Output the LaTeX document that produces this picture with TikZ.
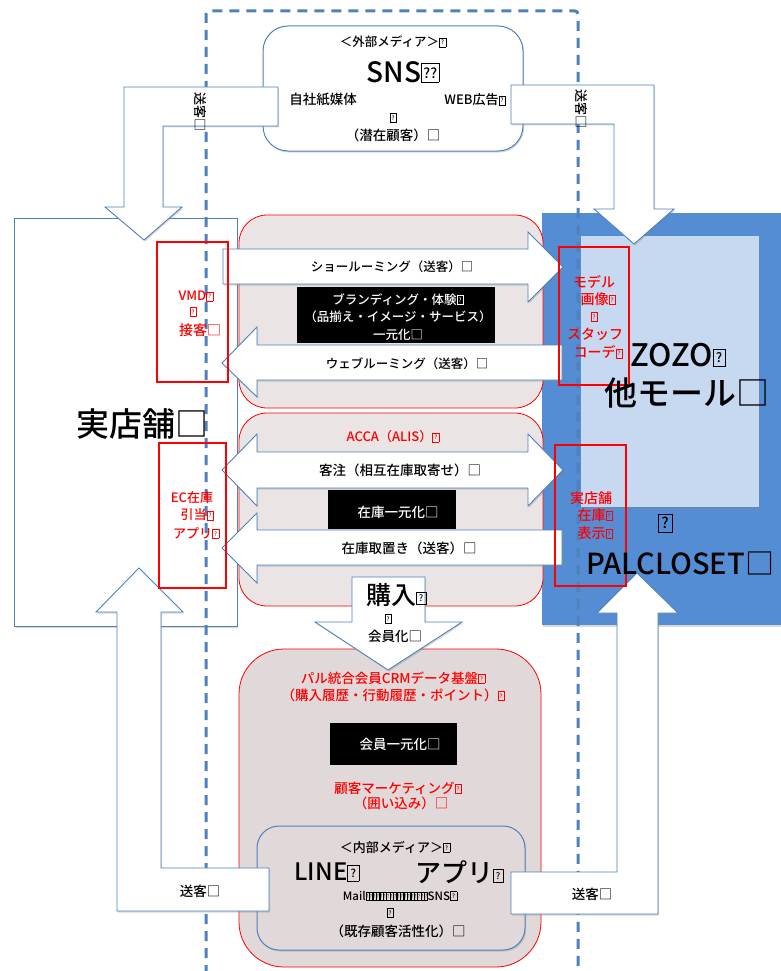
\documentclass[tikz,border=0pt]{standalone}
\usepackage{graphicx}
\usepackage{fontspec}
\setmainfont{Noto Sans CJK JP}[UprightFont={* Medium}]
\usetikzlibrary{shadows}
\definecolor{bline}{RGB}{79,129,189}
\definecolor{panel}{RGB}{84,141,212}
\definecolor{lightb}{RGB}{198,217,241}
\definecolor{greyA}{RGB}{234,228,228}
\definecolor{greyB}{RGB}{225,217,217}
% boxed question mark (missing-glyph box): width, height, font size, content
\newcommand{\qbox}[4]{{\setlength{\fboxsep}{0pt}\setlength{\fboxrule}{0.5pt}\fbox{\parbox[b][#2][c]{#1}{\centering\fontsize{#3}{#3}\selectfont #4}}}}
\newcommand{\qb}{\qbox{6pt}{8.5pt}{6}{?}}
\tikzset{
 shad/.style={drop shadow={shadow xshift=1.2pt,shadow yshift=-1.5pt,opacity=0.3}},
 bluebox/.style={draw=bline,line width=1pt,fill=white,shad},
 greybox/.style={draw=red,line width=0.8pt,fill=greyA,rounded corners=28pt},
 blockarrow/.style={draw=bline,line width=0.9pt,fill=white,shad},
 redframe/.style={draw=red,line width=2.2pt},
 txt/.style={inner sep=0pt,align=center,font=\fontsize{13}{17}\selectfont},
 rtxt/.style={txt,text=red},
 wtxt/.style={txt,text=white},
}
\begin{document}
\begin{tikzpicture}[x=1pt,y=-1pt]
\useasboundingbox[fill=white] (0,0) rectangle (781,971);
% store
\draw[bluebox] (14,218) rectangle (237,626);
% right panel
\fill[panel,shad] (542,213) rectangle (781,625);
\fill[lightb,shad] (581,236) rectangle (759,507);
% grey rounded boxes
\draw[greybox] (239,215) rectangle (543,408);
\draw[greybox] (239,413) rectangle (543,606);
\draw[greybox,fill=greyB,rounded corners=45pt] (239,649) rectangle (541,967);
% top SNS box
\draw[bluebox,rounded corners=25pt] (263,26) rectangle (523,151);
% inner media box
\draw[draw=bline,line width=1pt,fill=greyB,rounded corners=22pt,shad] (257,826) rectangle (525,950);
% black boxes
\fill[black] (297,287) rectangle (495,343);
\fill[black] (328,490) rectangle (456,529);
\fill[black] (330,723) rectangle (457,765);
% dashed frame
\draw[bline,line width=3pt,dash pattern=on 10pt off 7pt,rounded corners=3pt] (206,975) -- (206,11) -- (578,11) -- (578,975);
% block arrows
\draw[blockarrow] (278,87) -- (124,87) -- (124,207) -- (105,207) -- (144,240) -- (182,207) -- (163,207) -- (163,126) -- (278,126) -- cycle;
\draw[blockarrow] (511,85) -- (654,85) -- (654,209) -- (674,209) -- (634,244) -- (594,209) -- (614,209) -- (614,124) -- (511,124) -- cycle;
\draw[blockarrow] (139,568) -- (183,612) -- (161,612) -- (161,868) -- (269,868) -- (269,911) -- (117,911) -- (117,612) -- (96,612) -- cycle;
\draw[blockarrow] (637,573) -- (678,613) -- (658,613) -- (658,914) -- (511,914) -- (511,872) -- (617,872) -- (617,613) -- (597,613) -- cycle;
\draw[blockarrow] (223,249) -- (528,249) -- (528,232) -- (563,267) -- (528,302) -- (528,284) -- (223,284) -- cycle;
\draw[blockarrow] (222,363) -- (257,327) -- (257,345) -- (562,345) -- (562,380) -- (257,380) -- (257,397) -- cycle;
\draw[blockarrow] (222,470) -- (257,434) -- (257,452) -- (528,452) -- (528,434) -- (563,470) -- (528,506) -- (528,488) -- (257,488) -- (257,506) -- cycle;
\draw[blockarrow] (222,548) -- (257,513) -- (257,530) -- (562,530) -- (562,565) -- (257,565) -- (257,583) -- cycle;
\draw[blockarrow] (352,577) -- (425,577) -- (425,622) -- (462,622) -- (388,670) -- (315,622) -- (352,622) -- cycle;
% red frames
\draw[redframe] (157,242) rectangle (228,382);
\draw[redframe] (159,443) rectangle (226,588);
\draw[redframe] (559,247) rectangle (629,385);
\draw[redframe] (555,445) rectangle (626,586);
% SNS texts
\node[txt,font=\fontsize{12.5}{15}\selectfont] (extmedia) at (393,42) {＜外部メディア＞\qb};
\node[txt,font=\fontsize{28}{30}\selectfont] (sns) at (403,72) {SNS\qbox{17pt}{19pt}{14}{??}};
\node[txt,font=\fontsize{13.5}{15}\selectfont] (paper) at (323,100) {自社紙媒体};
\node[txt] (webad) at (475,100) {WEB広告\qb};
\node[txt] (q1) at (393,118) {\qb};
\node[txt,font=\fontsize{13.5}{15}\selectfont] (latent) at (393,135) {（潜在顧客）□};
% top arrow labels
\node[txt,rotate=-90] (sokyakuTL) at (200,112) {送客□};
\node[txt,rotate=-90] (sokyakuTR) at (581,109) {送客□};
% store
\node[txt,font=\fontsize{33}{35}\selectfont] (store) at (142,424) {実店舗□};
\node[rtxt] (vmd) at (196,296) {VMD\qb};
\node[rtxt] (q2) at (193,312) {\qb};
\node[rtxt,font=\fontsize{14}{15}\selectfont] (sekkyaku) at (200,330) {接客□};
\node[rtxt] (ec1) at (192,498) {EC在庫};
\node[rtxt] (ec2) at (197,515) {引当\qb};
\node[rtxt] (ec3) at (196,533) {アプリ\qb};
% upper grey box
\node[txt,font=\fontsize{12.5}{15}\selectfont] (showroom) at (392,267) {ショールーミング（送客）□};
\node[wtxt,font=\fontsize{12.5}{17.5}\selectfont] (brand) at (398,317) {ブランディング・体験\qb\\（品揃え・イメージ・サービス）\\一元化□};
\node[txt,font=\fontsize{12.5}{15}\selectfont] (webroom) at (407,364) {ウェブルーミング（送客）□};
% lower grey box
\node[rtxt] (acca) at (393,437) {ACCA（ALIS）\qb};
\node[txt,font=\fontsize{13.5}{15}\selectfont] (kyakuchu) at (400,470) {客注（相互在庫取寄せ）□};
\node[wtxt,font=\fontsize{13.5}{15}\selectfont] (zaiko) at (398,512) {在庫一元化□};
\node[txt,font=\fontsize{13.5}{15}\selectfont] (torioki) at (409,548) {在庫取置き（送客）□};
% purchase arrow
\node[txt,font=\fontsize{25}{27}\selectfont] (konyu) at (396,595) {購入\qbox{9pt}{12pt}{9}{?}};
\node[txt] (q3) at (388,619) {\qb};
\node[txt,font=\fontsize{13.5}{15}\selectfont] (kaiinka) at (395,636) {会員化□};
% CRM box
\node[rtxt,font=\fontsize{13.5}{15}\selectfont] (crm1) at (393,678) {パル統合会員CRMデータ基盤\qb};
\node[rtxt,font=\fontsize{13.5}{15}\selectfont] (crm2) at (393,695) {（購入履歴・行動履歴・ポイント）\qb};
\node[wtxt,font=\fontsize{13.5}{15}\selectfont] (kaiin) at (400,744) {会員一元化□};
\node[rtxt,font=\fontsize{13.5}{15}\selectfont] (mkt1) at (398,788) {顧客マーケティング\qb};
\node[rtxt,font=\fontsize{13.5}{15}\selectfont] (mkt2) at (401,803) {（囲い込み）□};
% inner media
\node[txt] (intmedia) at (395,847) {＜内部メディア＞\qb};
\node[txt,font=\fontsize{24}{26}\selectfont] (line) at (327,872) {LINE\qbox{11pt}{15pt}{11}{?}};
\node[txt,font=\fontsize{26}{28}\selectfont] (app) at (459,872) {アプリ\qbox{9pt}{13pt}{9}{?}};
\node[txt,font=\fontsize{11.5}{13}\selectfont] (mail) at (400,896) {Mail\resizebox{62pt}{8pt}{\qb\qb\qb\qb\qb\qb\qb\qb\qb\qb\qb\qb\qb\qb\qb\qb\qb\qb}SNS\qb};
\node[txt] (q4) at (390,913) {\qb};
\node[txt,font=\fontsize{13.5}{15}\selectfont] (kizon) at (398,931) {（既存顧客活性化）□};
% bottom arrow labels
\node[txt,font=\fontsize{13.5}{15}\selectfont] (sokyakuBL) at (200,891) {送客□};
\node[txt,font=\fontsize{13.5}{15}\selectfont] (sokyakuBR) at (592,894) {送客□};
% right panel texts
\node[txt,font=\fontsize{31}{33}\selectfont] (zozo) at (678,355) {ZOZO\qbox{12pt}{17pt}{13}{?}};
\node[txt,font=\fontsize{33}{35}\selectfont] (mall) at (687,393) {他モール□};
\node[txt] (q5) at (665,523) {\qbox{14pt}{18pt}{15}{?}};
\node[txt,font=\fontsize{29}{31}\selectfont] (palcloset) at (680,563) {PALCLOSET□};
\node[rtxt,font=\fontsize{14}{15}\selectfont] (model1) at (594,282) {モデル};
\node[rtxt,font=\fontsize{14}{15}\selectfont] (model2) at (598,299) {画像\qb};
\node[rtxt] (q6) at (594,317) {\qb};
\node[rtxt,font=\fontsize{14}{15}\selectfont] (model3) at (595,334) {スタッフ};
\node[rtxt,font=\fontsize{14}{15}\selectfont] (model4) at (598,352) {コーデ\qb};
\node[rtxt,font=\fontsize{14}{15}\selectfont] (jitsu1) at (591,498) {実店舗};
\node[rtxt,font=\fontsize{14}{15}\selectfont] (jitsu2) at (595,515) {在庫\qb};
\node[rtxt,font=\fontsize{14}{15}\selectfont] (jitsu3) at (595,533) {表示\qb};
\end{tikzpicture}
\end{document}
